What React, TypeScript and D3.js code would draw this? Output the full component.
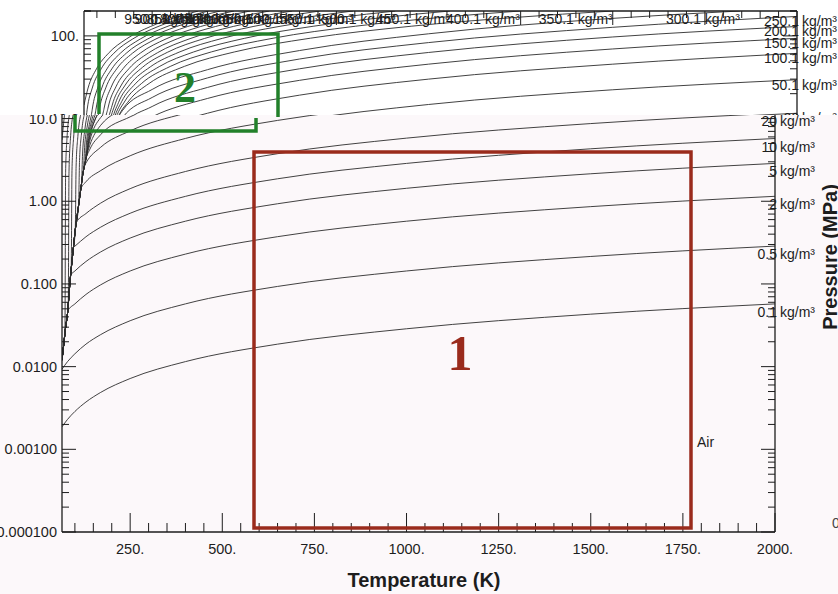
import React from 'react';
import * as d3 from 'd3';

// ---- chart data -----------------------------------------------------------
// Temperature (K) and pressure (MPa) extents of the plot
const T_DOMAIN: [number, number] = [65, 2000];
const P_DOMAIN: [number, number] = [0.0001, 200];
const T_MAJOR_TICKS = [250, 500, 750, 1000, 1250, 1500, 1750, 2000];
const P_DECADES = [0.0001, 0.001, 0.01, 0.1, 1, 10, 100];
const P_DECADE_LABELS = ['0.000100', '0.00100', '0.0100', '0.100', '1.00', '10.0', '100.'];

// Two-phase (saturation) line shared by every isochore below its departure point
const SAT_T = [65, 70, 74, 80, 87, 95, 101, 110, 116, 122, 126, 129.5, 131, 132, 132.5];
const SAT_P = [0.012, 0.019, 0.028, 0.044, 0.11, 0.25, 0.45, 0.89, 1.4, 2.2, 2.68, 3.19, 3.44, 3.62, 3.8];

// Isochores of air: [T (K), P (MPa)]
const RHO_0_1: [number, number][] = [[65, 0.00187], [80, 0.0023], [100, 0.00287], [130, 0.00373], [170, 0.00488], [250, 0.00718], [400, 0.0115], [650, 0.0187], [1000, 0.0287], [1500, 0.0431], [2000, 0.0574]];
const RHO_0_5: [number, number][] = [[65, 0.0093], [80, 0.0115], [100, 0.0143], [130, 0.0187], [170, 0.0244], [250, 0.0359], [400, 0.0574], [650, 0.0933], [1000, 0.1435], [1500, 0.215], [2000, 0.287]];
const RHO_2: [number, number][] = [[80.5, 0.047], [100, 0.0574], [130, 0.0746], [170, 0.0976], [250, 0.1435], [400, 0.2296], [650, 0.373], [1000, 0.574], [1500, 0.861], [2000, 1.148]];
const RHO_5: [number, number][] = [[88.5, 0.127], [100, 0.1435], [130, 0.1866], [170, 0.244], [250, 0.359], [400, 0.574], [650, 0.933], [1000, 1.435], [1500, 2.15], [2000, 2.87]];
const RHO_10: [number, number][] = [[96, 0.276], [100, 0.286], [130, 0.372], [170, 0.486], [250, 0.716], [400, 1.146], [650, 1.87], [1000, 2.87], [1500, 4.31], [2000, 5.74]];
const RHO_20: [number, number][] = [[103.5, 0.55], [130, 0.71], [170, 0.95], [250, 1.42], [400, 2.29], [650, 3.76], [1000, 5.8], [1500, 8.7], [2000, 11.6]];
const RHO_50: [number, number][] = [[116, 1.4], [130, 1.72], [170, 2.35], [250, 3.55], [400, 5.75], [650, 9.5], [1000, 14.8], [1500, 22.3], [2000, 29.5]];
const RHO_100: [number, number][] = [[126, 2.68], [130, 2.9], [170, 4.5], [250, 7.1], [400, 11.6], [650, 19.2], [1000, 30], [1500, 45.5], [2000, 61.5]];
const RHO_150: [number, number][] = [[129.5, 3.19], [140, 4.2], [170, 6.4], [250, 10.5], [400, 17.5], [650, 29], [1000, 45.5], [1500, 69.5], [2000, 93.5]];
const RHO_200: [number, number][] = [[131, 3.44], [140, 4.7], [170, 8.3], [250, 14.0], [400, 23.8], [650, 40], [1000, 63], [1500, 97], [2000, 130]];
const RHO_250: [number, number][] = [[132, 3.62], [140, 5.3], [170, 10.3], [250, 18], [400, 31], [650, 52.5], [1000, 83], [1500, 127], [2000, 172]];
const RHO_300: [number, number][] = [[132.5, 3.8], [140, 5.8], [170, 12.6], [250, 22.5], [400, 39], [650, 66.5], [1000, 106], [1500, 163], [1845, 200]];
const RHO_350: [number, number][] = [[132.3, 3.7], [139.1, 5.87], [152.8, 9.23], [187, 16.4], [241.7, 26.6], [337.5, 42.8], [474.2, 64.1], [679.4, 93.8], [952.9, 130.9], [1226.5, 166.1], [1500, 200]];
const RHO_400: [number, number][] = [[131.5, 3.53], [137.1, 5.71], [148.2, 9.06], [176.2, 16.3], [220.8, 26.5], [299, 42.7], [410.6, 64], [578.1, 93.7], [801.4, 130.8], [1024.7, 166], [1248, 200]];
const RHO_450: [number, number][] = [[130, 3.3], [134.6, 5.48], [143.9, 8.84], [167.1, 16], [204.2, 26.3], [269.2, 42.5], [362, 63.8], [501.2, 93.6], [686.8, 130.7], [872.4, 166], [1058, 200]];
const RHO_500: [number, number][] = [[127.5, 2.9], [131.4, 5.08], [139.2, 8.45], [158.8, 15.7], [190.1, 25.9], [244.9, 42.2], [323.1, 63.6], [440.5, 93.4], [597, 130.6], [753.5, 165.9], [910, 200]];
const RHO_550: [number, number][] = [[123, 2.3], [126.4, 4.49], [133.1, 7.87], [149.9, 15.1], [176.8, 25.4], [223.8, 41.7], [291, 63.2], [391.8, 93], [526.2, 130.4], [660.6, 165.8], [795, 200]];
const RHO_600: [number, number][] = [[118, 1.63], [120.9, 3.83], [126.8, 7.22], [141.5, 14.5], [165, 24.8], [206.1, 41.2], [264.8, 62.7], [352.8, 92.7], [470.2, 130.1], [587.6, 165.7], [705, 200]];
const RHO_650: [number, number][] = [[110, 0.9], [112.6, 3.1], [117.8, 6.5], [130.8, 13.8], [151.6, 24.2], [188, 40.6], [240, 62.2], [318, 92.3], [422, 129.9], [526, 165.6], [630, 200]];
const RHO_700: [number, number][] = [[101, 0.45], [103.3, 2.66], [108, 6.07], [119.7, 13.4], [138.4, 23.8], [171.1, 40.2], [217.8, 61.9], [287.8, 92], [381.2, 129.7], [474.6, 165.5], [568, 200]];
const RHO_750: [number, number][] = [[90, 0.15], [92.1, 2.36], [96.4, 5.78], [107, 13.1], [124.1, 23.5], [153.9, 40], [196.5, 61.7], [260.4, 91.9], [345.6, 129.6], [430.8, 165.5], [516, 200]];
const RHO_800: [number, number][] = [[82, 0.057], [84, 2.27], [87.9, 5.69], [97.6, 13], [113.2, 23.4], [140.5, 39.9], [179.5, 61.6], [238, 91.8], [316, 129.6], [394, 165.4], [472, 200]];
const RHO_850: [number, number][] = [[73, 0.026], [74.8, 2.24], [78.4, 5.66], [87.5, 13], [102, 23.4], [127.3, 39.9], [163.5, 61.6], [217.8, 91.8], [290.2, 129.6], [362.6, 165.4], [435, 200]];
const RHO_900: [number, number][] = [[65, 5.52], [73.7, 13], [87.4, 23.4], [111.5, 39.9], [145.8, 61.6], [197.2, 91.8], [265.8, 129.6], [334.4, 165.4], [403, 200]];
const RHO_950: [number, number][] = [[65, 14.6], [76, 23.4], [98.8, 39.9], [131.3, 61.6], [180, 91.8], [245, 129.6], [310, 165.4], [375, 200]];

const DENSITY_LABELS = ['0.1', '0.5', '2', '5', '10', '20', '50.1', '100.1', '150.1', '200.1', '250.1', '300.1',
  '350.1', '400.1', '450.1', '500.1', '550.1', '600.1', '650.1', '700.1', '750.1', '800.1', '850.1', '900.1', '950.1'];
const ISOCHORE_POINTS = [RHO_0_1, RHO_0_5, RHO_2, RHO_5, RHO_10, RHO_20, RHO_50, RHO_100, RHO_150, RHO_200, RHO_250, RHO_300,
  RHO_350, RHO_400, RHO_450, RHO_500, RHO_550, RHO_600, RHO_650, RHO_700, RHO_750, RHO_800, RHO_850, RHO_900, RHO_950];

// ---- layout -----------------------------------------------------------------
const W = 838;
const H = 594;
const PLOT = { left: 62, right: 775, top: 11, bottom: 532 };
const STRIP_SHIFT = 22; // the upper band repeats the plot shifted right
const STRIP_BOTTOM = 115;
const FONT = "'Liberation Sans', Arial, Helvetica, sans-serif";
const SERIF = "'Liberation Serif', 'DejaVu Serif', 'Times New Roman', serif";
const INK = '#1d1d1d';
const LINE = '#2c2c2c';

type Curve = { label: string; pts: [number, number][] };

const curves: Curve[] = DENSITY_LABELS.map((label, i) => {
  const own = ISOCHORE_POINTS[i];
  const t0 = own[0][0];
  // below its departure temperature the isochore runs along the saturation line
  const prefix: [number, number][] = t0 > SAT_T[0] && own[0][1] > 0.02
    ? SAT_T.map((t, k) => [t, SAT_P[k]] as [number, number]).filter(d => d[0] < t0 - 0.2)
    : [];
  return { label, pts: [...prefix, ...own] };
});

const yTicks: { v: number; major: boolean }[] = [];
P_DECADES.forEach(d => {
  for (let m = 1; m <= 9; m++) {
    const v = d * m;
    if (v <= P_DOMAIN[1] * 1.0001) yTicks.push({ v, major: m === 1 });
  }
});
yTicks.push({ v: 200, major: false });

const xMinorTicks = d3.range(100, 2001, 50).filter(v => v % 250 !== 0);

function Chart({ dx, labelDy, id }: { dx: number; labelDy: number; id: string }) {
  const x = d3.scaleLinear().domain(T_DOMAIN).range([PLOT.left + dx, PLOT.right + dx]);
  const y = d3.scaleLog().domain(P_DOMAIN).range([PLOT.bottom, PLOT.top]);
  const line = d3.line<[number, number]>()
    .x(d => x(d[0]))
    .y(d => y(d[1]))
    .curve(d3.curveMonotoneX);
  const L = PLOT.left + dx;
  const R = PLOT.right + dx;

  return (
    <g>
      <defs>
        <clipPath id={id}>
          <rect x={L} y={PLOT.top} width={R - L} height={PLOT.bottom - PLOT.top} />
        </clipPath>
      </defs>

      <g clipPath={`url(#${id})`} fill="none" stroke={LINE} strokeWidth={0.9}>
        {curves.map(c => (
          <path key={c.label} d={line(c.pts) || ''} />
        ))}
      </g>

      {/* frame */}
      <g stroke={INK} strokeWidth={1.3}>
        <line x1={L} x2={L} y1={PLOT.top} y2={PLOT.bottom} />
        <line x1={R} x2={R} y1={PLOT.top} y2={PLOT.bottom} />
        <line x1={L} x2={R} y1={PLOT.bottom} y2={PLOT.bottom} />
        <line x1={L} x2={R} y1={PLOT.top} y2={PLOT.top} />
      </g>

      {/* pressure ticks, left and right */}
      <g stroke={INK} strokeWidth={1}>
        {yTicks.map(t => {
          const len = t.major ? 14 : 7;
          const yy = y(t.v);
          return (
            <g key={t.v}>
              <line x1={L} x2={L + len} y1={yy} y2={yy} />
              <line x1={R} x2={R - len} y1={yy} y2={yy} />
            </g>
          );
        })}
      </g>
      <g fontFamily={FONT} fontSize={14.5} fill={INK} textAnchor="end">
        {P_DECADES.map((v, i) => (
          <text key={v} x={L - 5} y={y(v) + 5}>{P_DECADE_LABELS[i]}</text>
        ))}
      </g>

      {/* temperature ticks, bottom and top */}
      <g stroke={INK} strokeWidth={1}>
        {T_MAJOR_TICKS.map(v => (
          <g key={v}>
            <line x1={x(v)} x2={x(v)} y1={PLOT.bottom} y2={PLOT.bottom - 19} />
            <line x1={x(v)} x2={x(v)} y1={PLOT.top} y2={PLOT.top + 14} />
          </g>
        ))}
        {xMinorTicks.map(v => (
          <g key={v}>
            <line x1={x(v)} x2={x(v)} y1={PLOT.bottom} y2={PLOT.bottom - 9} />
            <line x1={x(v)} x2={x(v)} y1={PLOT.top} y2={PLOT.top + 7} />
          </g>
        ))}
      </g>
      <g fontFamily={FONT} fontSize={14.5} fill={INK} textAnchor="middle">
        {T_MAJOR_TICKS.map(v => (
          <text key={v} x={x(v)} y={PLOT.bottom + 22}>{`${v}.`}</text>
        ))}
      </g>

      {/* density labels: at the right edge, or along the top where a curve leaves the plot */}
      <g fontFamily={FONT} fontSize={14} fill={INK}>
        {curves.map(c => {
          const last = c.pts[c.pts.length - 1];
          if (last[1] >= P_DOMAIN[1] * 0.999) {
            return (
              <text key={c.label} x={x(last[0])} y={PLOT.top + 13} textAnchor="end">
                {`${c.label} kg/m³`}
              </text>
            );
          }
          const yy = y(last[1]) + labelDy + 5;
          return (
            <g key={c.label}>
              <text x={R + 2} y={yy} textAnchor="end">{c.label}</text>
              <text x={R + 5} y={yy}>kg/m³</text>
            </g>
          );
        })}
      </g>
    </g>
  );
}

export default function App() {
  return (
    <svg width={W} height={H} viewBox={`0 0 ${W} ${H}`}
      style={{ position: 'absolute', left: 0, top: 0, display: 'block' }}>
      <defs>
        <clipPath id="lower-band">
          <rect x={0} y={STRIP_BOTTOM} width={W} height={H - STRIP_BOTTOM} />
        </clipPath>
        <clipPath id="upper-band">
          <rect x={0} y={0} width={W} height={STRIP_BOTTOM} />
        </clipPath>
      </defs>
      <rect x={0} y={0} width={W} height={H} fill="#fcf8fa" />

      <g clipPath="url(#lower-band)">
        <Chart dx={0} labelDy={8} id="plot-main" />
      </g>

      <rect x={0} y={0} width={W} height={STRIP_BOTTOM} fill="#ffffff" />
      <g clipPath="url(#upper-band)">
        <Chart dx={STRIP_SHIFT} labelDy={5} id="plot-upper" />
      </g>

      {/* axis titles and fluid name */}
      <text x={424} y={587} textAnchor="middle" fontFamily={FONT} fontWeight="bold" fontSize={20} fill={INK}>
        Temperature (K)
      </text>
      <text transform="translate(837,257) rotate(-90)" textAnchor="middle" fontFamily={FONT}
        fontWeight="bold" fontSize={20} fill={INK}>
        Pressure (MPa)
      </text>
      <text x={697} y={447} fontFamily={FONT} fontSize={14} fill={INK}>Air</text>
      <text x={832} y={528} fontFamily={FONT} fontSize={14} fill="#444">0</text>

      {/* region 1 */}
      <rect x={254} y={152} width={437} height={376} fill="none" stroke="#9a2b1c" strokeWidth={3.5} />
      <text x={460} y={370} textAnchor="middle" fontFamily={SERIF} fontWeight="bold" fontSize={50} fill="#9a2b1c">1</text>

      {/* region 2 */}
      <path d="M99,114 V34 H278 V117" fill="none" stroke="#22802a" strokeWidth={3.5} />
      <path d="M75,115 V131 H256 V118" fill="none" stroke="#22802a" strokeWidth={3.5} />
      <text x={185} y={102} textAnchor="middle" fontFamily={SERIF} fontWeight="bold" fontSize={44} fill="#22802a">2</text>
    </svg>
  );
}
